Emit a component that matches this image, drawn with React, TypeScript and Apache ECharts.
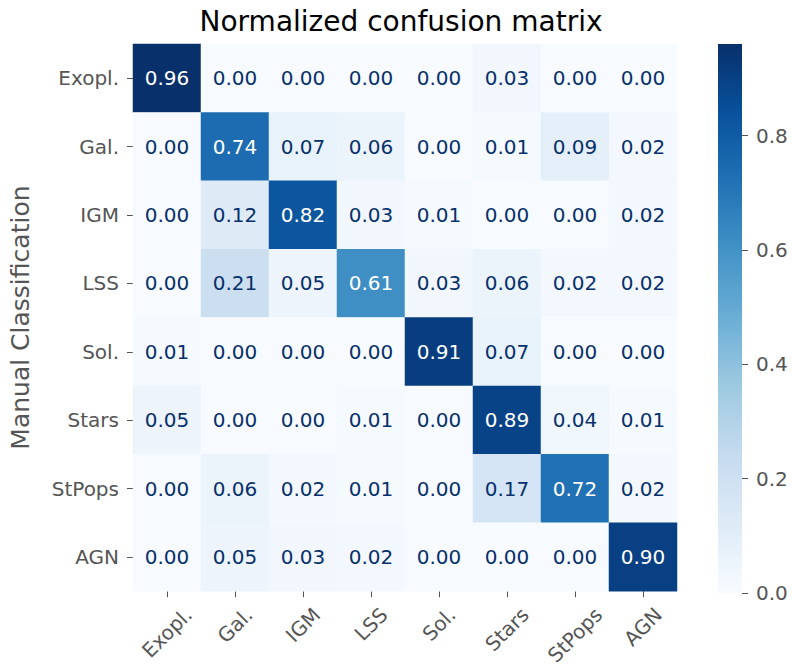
import React, { useEffect, useRef } from "react";
import * as echarts from "echarts";

const categories = ["Exopl.", "Gal.", "IGM", "LSS", "Sol.", "Stars", "StPops", "AGN"];
// rows = manual classification, columns = predicted
const rowExopl = [0.96, 0.0, 0.0, 0.0, 0.0, 0.03, 0.0, 0.0];
const rowGal = [0.0, 0.74, 0.07, 0.06, 0.0, 0.01, 0.09, 0.02];
const rowIGM = [0.0, 0.12, 0.82, 0.03, 0.01, 0.0, 0.0, 0.02];
const rowLSS = [0.0, 0.21, 0.05, 0.61, 0.03, 0.06, 0.02, 0.02];
const rowSol = [0.01, 0.0, 0.0, 0.0, 0.91, 0.07, 0.0, 0.0];
const rowStars = [0.05, 0.0, 0.0, 0.01, 0.0, 0.89, 0.04, 0.01];
const rowStPops = [0.0, 0.06, 0.02, 0.01, 0.0, 0.17, 0.72, 0.02];
const rowAGN = [0.0, 0.05, 0.03, 0.02, 0.0, 0.0, 0.0, 0.9];
const matrix = [rowExopl, rowGal, rowIGM, rowLSS, rowSol, rowStars, rowStPops, rowAGN];

const blues = ["#f7fbff", "#deebf7", "#c6dbef", "#9ecae1", "#6baed6", "#4292c6", "#2171b5", "#08519c", "#08306b"];
const FONT = "DejaVu Sans";
const GRAY = "#555555";
const LABEL_SIZE = 20;
const X_MARGIN = 8;

export default function App() {
  const ref = useRef<HTMLDivElement>(null);
  useEffect(() => {
    if (!ref.current) return;
    const chart = echarts.init(ref.current, undefined, { renderer: "svg" });
    const maxVal = Math.max(...matrix.flat());
    const data: any[] = [];
    matrix.forEach((row, r) => {
      row.forEach((v, c) => {
        data.push({
          value: [c, r, v],
          label: { color: v > maxVal / 2 ? "#ffffff" : "#08306b" },
        });
      });
    });
    const stops = blues.map((c, i) => ({ offset: i / (blues.length - 1), color: c }));

    // centre rotated x labels on their ticks (matplotlib style: ha=center, top aligned)
    const ctx = document.createElement("canvas").getContext("2d") as CanvasRenderingContext2D;
    ctx.font = `${LABEL_SIZE}px '${FONT}'`;
    const rich: Record<string, any> = {};
    categories.forEach((c, i) => {
      const w = ctx.measureText(c).width;
      const D = 5 + 0.354 * (w + LABEL_SIZE) + (8 - X_MARGIN);
      const p = Math.max(0, 1.414 * D);
      rich["l" + i] = {
        fontSize: LABEL_SIZE,
        fontFamily: FONT,
        color: GRAY,
        padding: [p, p, 0, 0],
      };
    });

    chart.setOption({
      animation: false,
      backgroundColor: "#ffffff",
      textStyle: { fontFamily: FONT },
      title: {
        text: "Normalized confusion matrix",
        left: 396,
        top: 2,
        textAlign: "center",
        textStyle: { fontFamily: FONT, fontSize: 28, fontWeight: "normal", color: "#000" },
      },
      grid: [
        { left: 127, top: 44, width: 550, height: 549 },
        { left: 718, top: 44, width: 24, height: 549 },
      ],
      xAxis: [
        {
          type: "category",
          data: categories,
          gridIndex: 0,
          axisLine: { show: false },
          axisTick: { show: true, alignWithLabel: true, length: 6, lineStyle: { color: GRAY } },
          axisLabel: {
            rotate: 45,
            interval: 0,
            align: "center",
            verticalAlign: "middle",
            color: GRAY,
            fontSize: LABEL_SIZE,
            fontFamily: FONT,
            margin: X_MARGIN,
            formatter: (v: string) => `{l${categories.indexOf(v)}|${v}}`,
            rich,
          },
          splitLine: { show: false },
        },
        { type: "value", gridIndex: 1, show: false, min: 0, max: 1 },
      ],
      yAxis: [
        {
          type: "category",
          data: categories,
          inverse: true,
          gridIndex: 0,
          name: "Manual Classification",
          nameLocation: "middle",
          nameGap: 100,
          nameTextStyle: { color: GRAY, fontSize: 25, fontFamily: FONT },
          axisLine: { show: false },
          axisTick: { show: true, alignWithLabel: true, length: 6, lineStyle: { color: GRAY } },
          axisLabel: { color: GRAY, fontSize: LABEL_SIZE, fontFamily: FONT, margin: 14, interval: 0 },
          splitLine: { show: false },
        },
        {
          type: "value",
          gridIndex: 1,
          position: "right",
          min: 0,
          max: maxVal,
          interval: 0.2,
          axisLine: { show: false, onZero: false },
          axisTick: { show: true, inside: false, length: 6, lineStyle: { color: GRAY, width: 1 } },
          axisLabel: {
            color: GRAY,
            fontSize: LABEL_SIZE,
            fontFamily: FONT,
            margin: 14,
            showMaxLabel: false,
            formatter: (v: number) => v.toFixed(1),
          },
          splitLine: { show: false },
        },
      ],
      visualMap: {
        type: "continuous",
        min: 0,
        max: maxVal,
        seriesIndex: 0,
        show: false,
        inRange: { color: blues },
      },
      series: [
        {
          type: "heatmap",
          xAxisIndex: 0,
          yAxisIndex: 0,
          data,
          label: {
            show: true,
            fontSize: LABEL_SIZE,
            fontFamily: FONT,
            formatter: (p: any) => p.value[2].toFixed(2),
          },
          itemStyle: { borderWidth: 0 },
          emphasis: { disabled: true },
        },
        {
          type: "custom",
          xAxisIndex: 1,
          yAxisIndex: 1,
          data: [[0, 0, 1, maxVal]],
          silent: true,
          z: 1,
          renderItem: (_params: any, api: any) => {
            const p0 = api.coord([api.value(0), api.value(1)]);
            const p1 = api.coord([api.value(2), api.value(3)]);
            return {
              type: "rect",
              shape: { x: p0[0], y: p1[1], width: p1[0] - p0[0], height: p0[1] - p1[1] },
              style: { fill: new echarts.graphic.LinearGradient(0, 1, 0, 0, stops) },
            };
          },
        },
      ],
    });
    return () => chart.dispose();
  }, []);
  return (
    <div
      ref={ref}
      style={{ position: "fixed", left: 0, top: 0, width: 792, height: 668 }}
    />
  );
}
